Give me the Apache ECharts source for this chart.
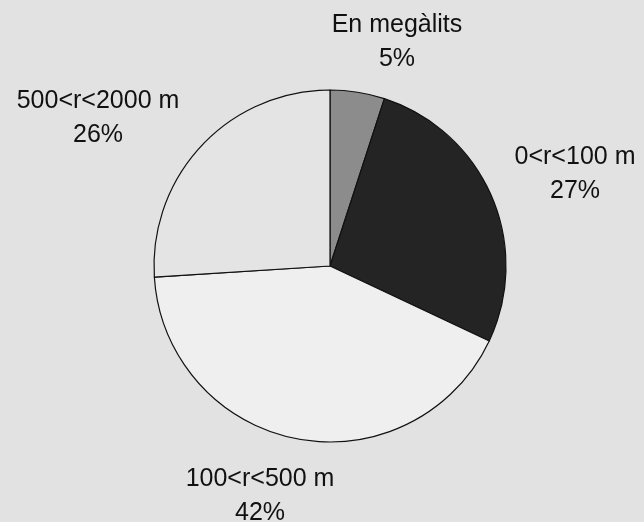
<!DOCTYPE html>
<html>
<head>
<meta charset="utf-8">
<script src="https://cdn.jsdelivr.net/npm/echarts@6/dist/echarts.min.js"></script>
<style>
  html, body { margin: 0; padding: 0; background: #e2e2e2; }
  #main { width: 644px; height: 522px; }
</style>
</head>
<body>
<div id="main"></div>
<script>
// dades del gràfic
var categories = ['En megàlits', '0<r<100 m', '100<r<500 m', '500<r<2000 m'];
var values = [5, 27, 42, 26];
var colors = ['#8c8c8c', '#242424', '#efefef', '#e4e4e4'];

// on va cada etiqueta (centre del text)
var labelPos = [[397, 42], [575, 174], [260, 496], [98, 118]];

var myChart = echarts.init(document.getElementById('main'));

myChart.setOption({
    backgroundColor: '#e2e2e2',
    animation: false,
    series: [{
        type: 'pie',
        center: [330, 266],
        radius: 176,
        startAngle: 90,
        clockwise: true,
        data: categories.map(function (c, i) {
            return { name: c, value: values[i], itemStyle: { color: colors[i] } };
        }),
        itemStyle: { borderColor: '#111', borderWidth: 1.2 },
        label: {
            show: true,
            position: 'outside',
            formatter: function (p) { return p.name + '\n' + p.value + '%'; },
            fontFamily: 'Liberation Sans, Arial, sans-serif',
            fontSize: 25,
            lineHeight: 34,
            color: '#111',
            align: 'center',
            width: 240,
            overflow: 'none'
        },
        labelLine: { show: false },
        labelLayout: function (p) {
            var pos = labelPos[p.dataIndex];
            return { x: pos[0], y: pos[1], align: 'center', verticalAlign: 'middle' };
        }
    }]
});
</script>
</body>
</html>
